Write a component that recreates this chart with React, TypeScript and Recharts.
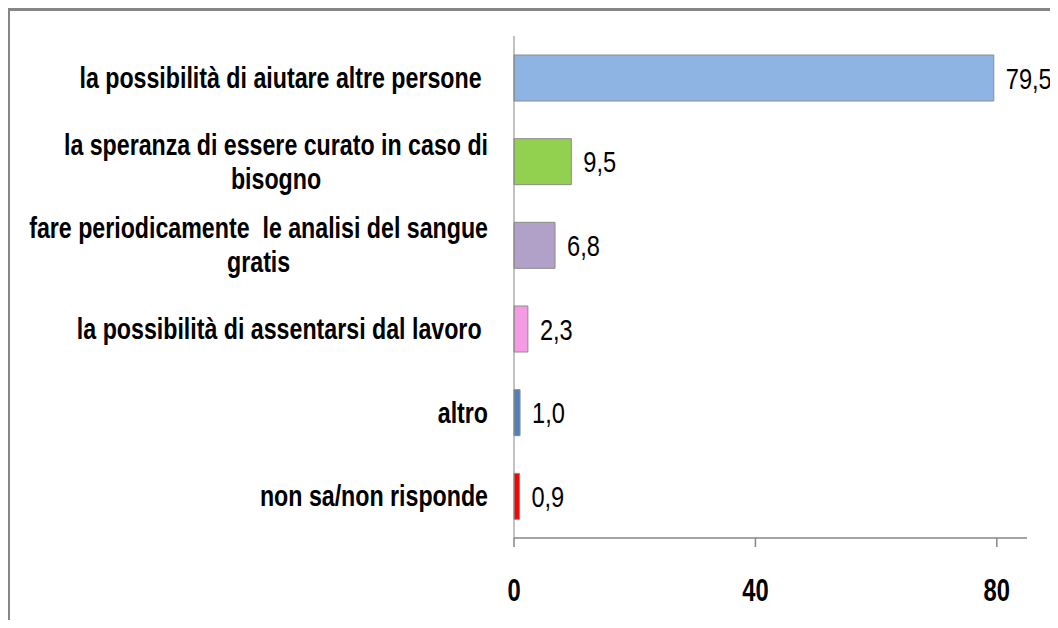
import { Bar, BarChart, Cell, LabelList, XAxis, YAxis } from 'recharts';

// answers, top to bottom as in the picture
const categories = [
  'la possibilità di aiutare altre persone ',
  'la speranza di essere curato in caso di\nbisogno',
  'fare periodicamente  le analisi del sangue\ngratis',
  'la possibilità di assentarsi dal lavoro ',
  'altro',
  'non sa/non risponde',
];
const percentages = [79.5, 9.5, 6.8, 2.3, 1.0, 0.9];
const barColors = ['#8eb4e3', '#92d050', '#b1a0c7', '#f59be3', '#4f81bd', '#ff0000'];
const xTicks = [0, 40, 80];

const data = categories.map((name, i) => ({ name, value: percentages[i] }));

const FONT = '"Liberation Sans", Arial, sans-serif';
const STRETCH = 1.25;
const AXIS_GREY = '#868686';
const LABEL_SIZE = 23.2;

let ctx: CanvasRenderingContext2D | null = null;
function textWidth(s: string, font: string) {
  if (!ctx) ctx = document.createElement('canvas').getContext('2d');
  if (!ctx) return s.length * 11;
  ctx.font = font;
  return ctx.measureText(s).width;
}

function CategoryTick({ x, y, payload }: any) {
  const lines = String(payload.value).split('\n');
  const lineGap = 34;
  const first = -((lines.length - 1) * lineGap) / 2;
  // wrapped lines are centred under the first one, like the original
  const w = textWidth(lines[0].trimEnd(), `bold ${LABEL_SIZE}px ${FONT}`);
  return (
    <g>
      {lines.map((line, i) => {
        const wrapped = i > 0;
        return (
          <g
            key={i}
            transform={`translate(${wrapped ? x - w / 2 : x},${y + first + i * lineGap}) scale(1,${STRETCH})`}
          >
            <text
              x={0}
              y={LABEL_SIZE * 0.35}
              textAnchor={wrapped ? 'middle' : 'end'}
              fontFamily={FONT}
              fontWeight="bold"
              fontSize={LABEL_SIZE}
              fill="#000"
              style={{ whiteSpace: 'pre' }}
            >
              {line}
            </text>
          </g>
        );
      })}
    </g>
  );
}

function ValueTick({ x, y, payload }: any) {
  const fontSize = 25;
  return (
    <g transform={`translate(${x},${y + 41}) scale(0.95,${STRETCH})`}>
      <text x={0} y={fontSize * 0.358} textAnchor="middle" fontFamily={FONT} fontWeight="bold" fontSize={fontSize} fill="#000">
        {payload.value}
      </text>
    </g>
  );
}

function ValueLabel({ x, y, width, height, value }: any) {
  const fontSize = 23.6;
  return (
    <g transform={`translate(${x + width + 12},${y + height / 2}) scale(1,${STRETCH})`}>
      <text x={0} y={fontSize * 0.358} fontFamily={FONT} fontSize={fontSize} fill="#000">
        {Number(value).toFixed(1).replace('.', ',')}
      </text>
    </g>
  );
}

export default function App() {
  return (
    <div style={{ position: 'relative', width: 1050, height: 612, background: '#fff' }}>
      <div
        style={{
          position: 'absolute',
          left: -1,
          top: 0,
          right: 0,
          bottom: 0,
          borderTop: `3px solid ${AXIS_GREY}`,
          borderLeft: `3px solid ${AXIS_GREY}`,
        }}
      />
      <div style={{ position: 'absolute', left: 0, top: 0 }}>
        <BarChart
          width={1050}
          height={612}
          data={data}
          layout="vertical"
          margin={{ top: 28, right: 31, left: 0, bottom: 0 }}
          barSize={46}
        >
          <XAxis
            type="number"
            domain={[0, 85]}
            ticks={xTicks}
            height={82}
            tickSize={9}
            tickMargin={2}
            axisLine={{ stroke: AXIS_GREY, strokeWidth: 1.5 }}
            tickLine={{ stroke: AXIS_GREY, strokeWidth: 1.5 }}
            tick={<ValueTick />}
            interval={0}
          />
          <YAxis
            type="category"
            dataKey="name"
            width={506}
            tickSize={0}
            tickMargin={26}
            tickLine={false}
            axisLine={{ stroke: AXIS_GREY, strokeWidth: 1 }}
            tick={<CategoryTick />}
            interval={0}
          />
          <Bar dataKey="value" stroke="#8c8c8c" strokeWidth={1} isAnimationActive={false}>
            {data.map((d, i) => (
              <Cell key={d.name} fill={barColors[i]} />
            ))}
            <LabelList dataKey="value" content={<ValueLabel />} />
          </Bar>
        </BarChart>
      </div>
    </div>
  );
}
